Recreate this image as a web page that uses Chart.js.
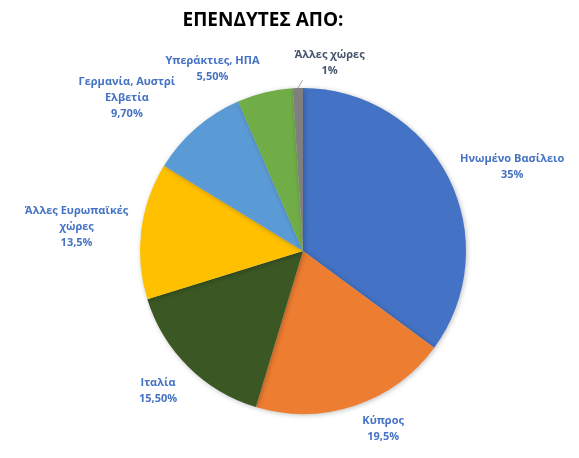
<!DOCTYPE html>
<html>
<head>
<meta charset="utf-8">
<script src="https://cdn.jsdelivr.net/npm/chart.js@4"></script>
<style>
  html, body { margin: 0; padding: 0; background: #fff; }
  #wrap { width: 579px; height: 458px; }
</style>
</head>
<body>
<div id="wrap"><canvas id="pieChart" width="579" height="458"></canvas></div>
<script>
// Δεδομένα
const categories = ['Ηνωμένο Βασίλειο', 'Κύπρος', 'Ιταλία', 'Άλλες Ευρωπαϊκές χώρες',
    'Γερμανία, Αυστρί Ελβετία', 'Υπεράκτιες, ΗΠΑ', 'Άλλες χώρες'];
const values = [35, 19.5, 15.5, 13.5, 9.7, 5.5, 1];
const valueLabels = ['35%', '19,5%', '15,50%', '13,5%', '9,70%', '5,50%', '1%'];
// γραμμές κειμένου κάθε ετικέτας
const labelLines = [
    ['Ηνωμένο Βασίλειο'],
    ['Κύπρος'],
    ['Ιταλία'],
    ['Άλλες Ευρωπαϊκές', 'χώρες'],
    ['Γερμανία, Αυστρί', 'Ελβετία'],
    ['Υπεράκτιες, ΗΠΑ'],
    ['Άλλες χώρες']
];

const colors = ['#4472C4', '#ED7D31', '#3A5724', '#FFC000', '#5B9BD5', '#70AD47', '#7F7F7F'];
const textColors = ['#4472C4', '#4472C4', '#4472C4', '#4472C4', '#4472C4', '#4472C4', '#44546A'];
// μετατόπιση ετικετών από το σημείο στη μέση γωνία
const labelShift = [[28, 7], [16, -15], [-2, -4], [-25, 1], [-43, 0], [-43, 15], [33, 15]];

// Τίτλος
const titlePlugin = {
    id: 'customTitle',
    afterDraw(chart) {
        const ctx = chart.ctx;
        ctx.save();
        ctx.font = 'bold 19px "Open Sans", sans-serif';
        ctx.fillStyle = '#000';
        ctx.textAlign = 'center';
        ctx.textBaseline = 'middle';
        ctx.fillText('ΕΠΕΝΔΥΤΕΣ ΑΠΟ:', 263, 21);
        ctx.restore();
    }
};

// σκιά πίτας
const shadowPlugin = {
    id: 'pieShadow',
    beforeDatasetDraw(chart) {
        const ctx = chart.ctx;
        ctx.save();
        ctx.shadowColor = 'rgba(0,0,0,0.25)';
        ctx.shadowBlur = 5;
        ctx.shadowOffsetX = 1;
        ctx.shadowOffsetY = 1;
    },
    afterDatasetDraw(chart) {
        chart.ctx.restore();
    }
};

// Ετικέτες έξω από την πίτα
const labelPlugin = {
    id: 'outLabels',
    afterDatasetDraw(chart) {
        const ctx = chart.ctx;
        const arcs = chart.getDatasetMeta(0).data;
        ctx.save();
        ctx.font = 'bold 11px "Open Sans", sans-serif';
        ctx.textAlign = 'center';
        ctx.textBaseline = 'middle';
        arcs.forEach((arc, i) => {
            const mid = (arc.startAngle + arc.endAngle) / 2;
            const r = arc.outerRadius + 40;
            const x = arc.x + Math.cos(mid) * r + labelShift[i][0];
            const lines = labelLines[i].concat([valueLabels[i]]);
            const y0 = arc.y + Math.sin(mid) * r + labelShift[i][1] - (lines.length - 1) * 8;
            ctx.fillStyle = textColors[i];
            lines.forEach((t, j) => ctx.fillText(t, x, y0 + j * 16));
            if (i === arcs.length - 1) {
                // γραμμή οδηγός
                ctx.strokeStyle = '#A6A6A6';
                ctx.lineWidth = 1;
                ctx.beginPath();
                ctx.moveTo(arc.x + Math.cos(mid) * arc.outerRadius, arc.y + Math.sin(mid) * arc.outerRadius);
                ctx.lineTo(x - 27, y0 + 25);
                ctx.stroke();
            }
        });
        ctx.restore();
    }
};

new Chart(document.getElementById('pieChart').getContext('2d'), {
    type: 'pie',
    data: {
        labels: categories,
        datasets: [{
            data: values,
            backgroundColor: colors,
            borderWidth: 0
        }]
    },
    options: {
        responsive: false,
        animation: false,
        layout: {
            padding: { top: 88, bottom: 44, left: 140, right: 113 }
        },
        plugins: {
            legend: { display: false },
            tooltip: { enabled: false },
            title: { display: false }
        }
    },
    plugins: [shadowPlugin, labelPlugin, titlePlugin]
});
</script>
</body>
</html>
